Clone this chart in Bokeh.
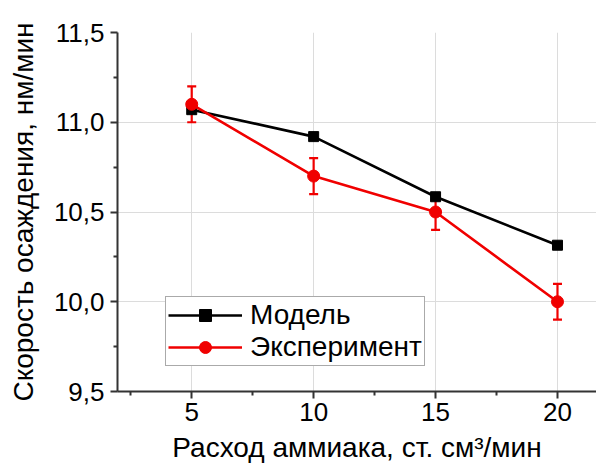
from bokeh.plotting import figure
from bokeh.models import (Range1d, FixedTicker, CustomJSTickFormatter, Whisker,
                          ColumnDataSource, Legend, LegendItem)
from bokeh.embed import file_html
from bokeh.resources import INLINE

flow = [5, 10, 15, 20]
model = [11.07, 10.92, 10.585, 10.315]
experiment = [11.10, 10.70, 10.50, 10.00]
exp_err = [0.10, 0.10, 0.10, 0.10]

x_major = [5, 10, 15, 20]
x_minor = [2.5, 7.5, 12.5, 17.5]
y_major = [9.5, 10.0, 10.5, 11.0, 11.5]
y_minor = [9.75, 10.25, 10.75, 11.25]

FONT = "Liberation Sans"
RED = "#f00000"

p = figure(width=596, height=465, output_backend="svg", toolbar_location=None,
           x_range=Range1d(1.956, 21.6), y_range=Range1d(9.5, 11.5),
           min_border_left=117, min_border_top=32, min_border_bottom=73,
           min_border_right=0)
p.outline_line_color = None
p.background_fill_color = "white"
p.border_fill_color = "white"

for ax in (p.xaxis[0], p.yaxis[0]):
    ax.axis_line_color = "#333333"
    ax.axis_line_width = 2
    ax.major_tick_line_color = "#333333"
    ax.major_tick_line_width = 2
    ax.minor_tick_line_color = "#333333"
    ax.minor_tick_line_width = 2
    ax.major_tick_in = 0
    ax.major_tick_out = 7
    ax.minor_tick_in = 0
    ax.minor_tick_out = 4
    ax.major_label_text_font = FONT
    ax.major_label_text_font_size = "26px"
    ax.major_label_text_color = "black"
    ax.axis_label_text_font = FONT
    ax.axis_label_text_font_size = "28px"
    ax.axis_label_text_font_style = "normal"
    ax.axis_label_text_color = "black"

p.xaxis.ticker = FixedTicker(ticks=x_major, minor_ticks=x_minor)
p.yaxis.ticker = FixedTicker(ticks=y_major, minor_ticks=y_minor)
p.yaxis.formatter = CustomJSTickFormatter(code="return tick.toFixed(1).replace('.', ',');")
p.xaxis.axis_label = "Расход аммиака, ст. см³/мин"
p.yaxis.axis_label = "Скорость осаждения, нм/мин"
p.xaxis.major_label_standoff = 4
p.yaxis.major_label_standoff = 6
p.xaxis.axis_label_standoff = 8
p.yaxis.axis_label_standoff = 12

p.xgrid.ticker = FixedTicker(ticks=x_major)
p.ygrid.ticker = FixedTicker(ticks=[10.0, 10.5, 11.0])
p.xgrid.grid_line_color = "#dcdcdc"
p.ygrid.grid_line_color = "#dcdcdc"
p.xgrid.grid_line_width = 1
p.ygrid.grid_line_width = 1

src = ColumnDataSource(dict(x=flow, model=model, exp=experiment,
                            lo=[e - d for e, d in zip(experiment, exp_err)],
                            hi=[e + d for e, d in zip(experiment, exp_err)]))

l_model = p.line("x", "model", source=src, line_color="black", line_width=2.6)
s_model = p.scatter("x", "model", source=src, marker="square", size=10,
                    fill_color="black", line_color="black")
l_exp = p.line("x", "exp", source=src, line_color=RED, line_width=2.6)
wh = Whisker(base="x", lower="lo", upper="hi", source=src,
             line_color=RED, line_width=2.2)
for head in (wh.upper_head, wh.lower_head):
    head.size = 9
    head.line_color = RED
    head.line_width = 2.2
p.add_layout(wh)
s_exp = p.scatter("x", "exp", source=src, marker="circle", size=12,
                  fill_color=RED, line_color=RED)

legend = Legend(items=[LegendItem(label="Модель", renderers=[l_model, s_model]),
                       LegendItem(label="Эксперимент", renderers=[l_exp, s_exp])],
                location=(48, 25), orientation="vertical")
legend.label_text_font = FONT
legend.label_text_font_size = "28px"
legend.label_text_color = "black"
legend.glyph_width = 74
legend.glyph_height = 30
legend.label_standoff = 8
legend.spacing = 0
legend.padding = 2
legend.margin = 0
legend.border_line_color = "#555555"
legend.border_line_width = 1
legend.background_fill_color = "white"
legend.background_fill_alpha = 1
p.add_layout(legend, "center")

open("out.html", "w").write(file_html(p, INLINE))
